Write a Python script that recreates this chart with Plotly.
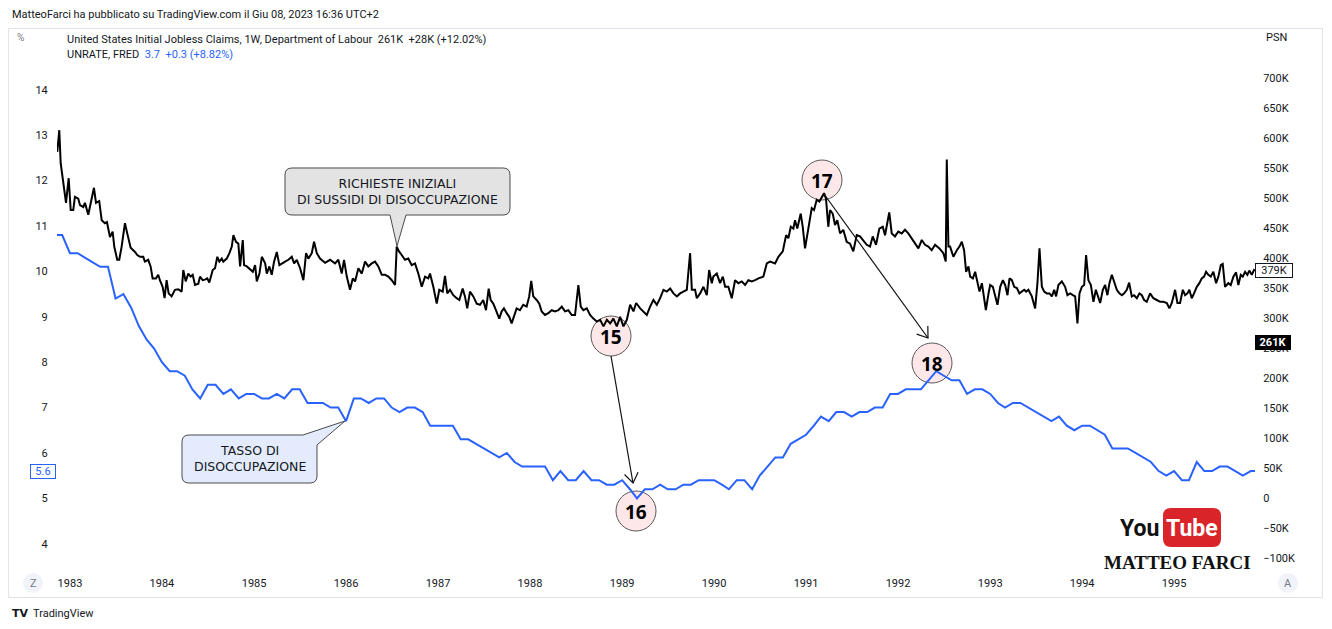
import math
from datetime import datetime
import plotly.graph_objects as go

# ---------------- DATA ----------------
# Initial jobless claims (thousands), dates as decimal years
claims_t = [
    1982.862, 1982.884, 1982.899, 1982.921, 1982.957, 1982.986,
    1983.008, 1983.036, 1983.054, 1983.090, 1983.109, 1983.145, 1983.163, 1983.199, 1983.236, 1983.261,
    1983.283, 1983.318, 1983.345, 1983.380, 1983.402, 1983.435, 1983.464, 1983.482, 1983.514, 1983.536,
    1983.562, 1983.598, 1983.623, 1983.660, 1983.707, 1983.732, 1983.761, 1983.797, 1983.815, 1983.851,
    1983.877, 1983.899, 1983.935, 1983.960, 1983.978,
    1984.008, 1984.029, 1984.051, 1984.073, 1984.105, 1984.141, 1984.177, 1984.214, 1984.232, 1984.258,
    1984.286, 1984.312, 1984.334, 1984.359, 1984.395, 1984.413, 1984.442, 1984.467, 1984.492, 1984.514,
    1984.551, 1984.576, 1984.601, 1984.623, 1984.649, 1984.666, 1984.703, 1984.732, 1984.758, 1984.775,
    1984.804, 1984.829, 1984.848, 1984.877, 1984.891, 1984.921, 1984.957, 1984.986,
    1985.011, 1985.029, 1985.058, 1985.084, 1985.120, 1985.138, 1985.166, 1985.192, 1985.217, 1985.247,
    1985.275, 1985.301, 1985.337, 1985.373, 1985.410, 1985.435, 1985.464, 1985.500, 1985.536, 1985.565,
    1985.590, 1985.627, 1985.652, 1985.682, 1985.717, 1985.772, 1985.826, 1985.880, 1985.916, 1985.953,
    1985.978,
    1986.008, 1986.043, 1986.073, 1986.098, 1986.134, 1986.171, 1986.207, 1986.242, 1986.279, 1986.315,
    1986.351, 1986.388, 1986.424, 1986.460, 1986.497, 1986.533, 1986.551, 1986.576, 1986.605, 1986.641,
    1986.677, 1986.714, 1986.750, 1986.786, 1986.823, 1986.859, 1986.895, 1986.913, 1986.949, 1986.986,
    1987.014, 1987.051, 1987.076, 1987.101, 1987.130, 1987.166, 1987.203, 1987.232, 1987.268, 1987.293,
    1987.318, 1987.348, 1987.384, 1987.421, 1987.457, 1987.492, 1987.522, 1987.551, 1987.573, 1987.601,
    1987.630, 1987.666, 1987.692, 1987.717, 1987.747, 1987.775, 1987.801, 1987.826, 1987.855, 1987.891,
    1987.927, 1987.964, 1987.992,
    1988.014, 1988.036, 1988.073, 1988.101, 1988.127, 1988.163, 1988.199, 1988.236, 1988.272, 1988.308,
    1988.345, 1988.380, 1988.416, 1988.453, 1988.489, 1988.525, 1988.551, 1988.579, 1988.616, 1988.652,
    1988.688, 1988.725, 1988.761, 1988.797, 1988.834, 1988.870, 1988.905, 1988.942, 1988.978,
    1989.014, 1989.051, 1989.087, 1989.123, 1989.152, 1989.196, 1989.232, 1989.268, 1989.304, 1989.340,
    1989.377, 1989.413, 1989.449, 1989.486, 1989.522, 1989.558, 1989.595, 1989.630, 1989.666, 1989.703,
    1989.739, 1989.758, 1989.793, 1989.812, 1989.848, 1989.884, 1989.921, 1989.946, 1989.975, 1989.992,
    1990.029, 1990.065, 1990.095, 1990.120, 1990.155, 1990.192, 1990.228, 1990.264, 1990.301, 1990.337,
    1990.373, 1990.410, 1990.446, 1990.482, 1990.536, 1990.573, 1990.609, 1990.663, 1990.699, 1990.717,
    1990.747, 1990.783, 1990.808, 1990.834, 1990.862, 1990.880, 1990.905, 1990.942, 1990.964, 1990.989,
    1991.025, 1991.062, 1991.087, 1991.116, 1991.145, 1991.171, 1991.196, 1991.217, 1991.242, 1991.261,
    1991.290, 1991.315, 1991.340, 1991.370, 1991.405, 1991.442, 1991.478, 1991.514, 1991.551, 1991.587,
    1991.623, 1991.660, 1991.696, 1991.725, 1991.761, 1991.797, 1991.834, 1991.859, 1991.905, 1991.932,
    1991.967,
    1992.003, 1992.040, 1992.076, 1992.112, 1992.149, 1992.185, 1992.221, 1992.258, 1992.293, 1992.329,
    1992.366, 1992.402, 1992.449, 1992.492, 1992.518, 1992.529, 1992.547, 1992.565, 1992.601, 1992.638,
    1992.667, 1992.692, 1992.717, 1992.739, 1992.764, 1992.783, 1992.812, 1992.837, 1992.855, 1992.884,
    1992.910, 1992.927, 1992.953, 1992.982,
    1993.000, 1993.029, 1993.054, 1993.079, 1993.109, 1993.138, 1993.163, 1993.188, 1993.210, 1993.236,
    1993.261, 1993.290, 1993.318, 1993.345, 1993.370, 1993.391, 1993.416, 1993.453, 1993.489, 1993.514,
    1993.536, 1993.562, 1993.587, 1993.616, 1993.645, 1993.671, 1993.696, 1993.717, 1993.742, 1993.779,
    1993.815, 1993.840, 1993.870, 1993.899, 1993.924, 1993.949, 1993.971, 1993.997,
    1994.022, 1994.043, 1994.068, 1994.095, 1994.123, 1994.149, 1994.166, 1994.196, 1994.225, 1994.250,
    1994.275, 1994.297, 1994.323, 1994.348, 1994.377, 1994.405, 1994.432, 1994.457, 1994.486, 1994.511,
    1994.540, 1994.565, 1994.595, 1994.623, 1994.649, 1994.674, 1994.703, 1994.739, 1994.775, 1994.812,
    1994.848, 1994.884, 1994.921, 1994.949, 1994.975,
    1995.011, 1995.036, 1995.065, 1995.095, 1995.120, 1995.145, 1995.166, 1995.192, 1995.217, 1995.247,
    1995.275, 1995.301, 1995.326, 1995.348, 1995.373, 1995.399, 1995.427, 1995.457, 1995.482, 1995.508,
    1995.529, 1995.554, 1995.590, 1995.616, 1995.645, 1995.674, 1995.699, 1995.725, 1995.747, 1995.772,
    1995.797, 1995.818, 1995.845, 1995.870, 1995.880,
]
claims_k = [
    577, 613, 558, 535, 492, 533,
    480, 480, 502, 499, 488, 485, 492, 472, 502, 517,
    492, 495, 463, 458, 460, 435, 444, 419, 397, 397,
    419, 458, 441, 417, 410, 405, 402, 402, 394, 397,
    386, 366, 366, 372, 363,
    352, 333, 363, 341, 336, 347, 348, 344, 380, 361,
    374, 369, 372, 355, 357, 369, 363, 364, 366, 359,
    380, 383, 402, 394, 399, 394, 399, 408, 419, 438,
    427, 424, 386, 430, 388, 386, 380, 377,
    388, 361, 374, 402, 391, 374, 386, 372, 394, 410,
    388, 391, 394, 397, 402, 391, 397, 383, 363, 408,
    399, 408, 427, 408, 399, 392, 397, 391, 397, 374,
    397,
    369, 347, 366, 361, 383, 374, 394, 386, 391, 394,
    386, 372, 372, 369, 363, 355, 419, 411, 405, 397,
    399, 388, 391, 374, 352, 369, 366, 374, 352, 324,
    347, 344, 370, 341, 347, 338, 333, 330, 349, 336,
    316, 344, 336, 324, 322, 330, 313, 349, 330, 324,
    313, 299, 311, 316, 308, 302, 291, 302, 316, 313,
    322, 319, 336,
    362, 336, 330, 324, 311, 305, 308, 313, 311, 313,
    319, 311, 313, 305, 305, 355, 319, 313, 316, 305,
    299, 294, 297, 286, 297, 291, 299, 286, 302,
    286, 297, 322, 311, 325, 316, 311, 305, 319, 330,
    322, 333, 347, 344, 349, 341, 336, 341, 344, 347,
    408, 347, 347, 333, 341, 352, 338, 380, 358, 369,
    374, 358, 369, 352, 352, 333, 363, 358, 361, 355,
    363, 361, 363, 366, 369, 391, 394, 391, 402, 405,
    411, 438, 433, 452, 449, 463, 449, 474, 452, 416,
    452, 483, 480, 497, 494, 502, 508, 499, 452, 480,
    474, 455, 463, 441, 447, 427, 424, 411, 438, 436,
    430, 422, 419, 436, 422, 449, 452, 438, 476, 441,
    436,
    444, 441, 447, 441, 433, 424, 416, 430, 422, 419,
    413, 422, 416, 408, 394, 564, 419, 419, 402, 413,
    419, 427, 413, 377, 386, 369, 366, 377, 363, 344,
    358, 338, 313, 341,
    355, 352, 338, 322, 352, 363, 355, 338, 366, 363,
    352, 350, 341, 344, 347, 344, 347, 336, 316, 358,
    416, 352, 344, 341, 341, 336, 347, 336, 355, 361,
    352, 338, 341, 338, 336, 291, 341, 352,
    355, 405, 363, 355, 327, 347, 338, 325, 347, 355,
    338, 358, 372, 361, 347, 341, 338, 341, 347, 359,
    336, 338, 333, 341, 338, 330, 327, 341, 333, 330,
    327, 327, 325, 316, 325,
    347, 325, 325, 347, 338, 341, 347, 333, 341, 352,
    358, 366, 369, 377, 372, 369, 377, 358, 369, 388,
    390, 352, 358, 355, 369, 376, 355, 372, 369, 377,
    372, 379, 372, 380, 379,
]
assert len(claims_t) == len(claims_k)

# Monthly unemployment rate (%), from Nov 1982
unrate_start = (1982, 11)
unrate = [
    10.8, 10.8,
    10.4, 10.4, 10.3, 10.2, 10.1, 10.1, 9.4, 9.5, 9.2, 8.8, 8.5, 8.3,
    8.0, 7.8, 7.8, 7.7, 7.4, 7.2, 7.5, 7.5, 7.3, 7.4, 7.2, 7.3,
    7.3, 7.2, 7.2, 7.3, 7.2, 7.4, 7.4, 7.1, 7.1, 7.1, 7.0, 7.0,
    6.7, 7.2, 7.2, 7.1, 7.2, 7.2, 7.0, 6.9, 7.0, 7.0, 6.9, 6.6,
    6.6, 6.6, 6.6, 6.3, 6.3, 6.2, 6.1, 6.0, 5.9, 6.0, 5.8, 5.7,
    5.7, 5.7, 5.7, 5.4, 5.6, 5.4, 5.4, 5.6, 5.4, 5.4, 5.3, 5.3,
    5.4, 5.2, 5.0, 5.2, 5.2, 5.3, 5.2, 5.2, 5.3, 5.3, 5.4, 5.4,
    5.4, 5.3, 5.2, 5.4, 5.4, 5.2, 5.5, 5.7, 5.9, 5.9, 6.2, 6.3,
    6.4, 6.6, 6.8, 6.7, 6.9, 6.9, 6.8, 6.9, 6.9, 7.0, 7.0, 7.3,
    7.3, 7.4, 7.4, 7.4, 7.6, 7.8, 7.7, 7.6, 7.6, 7.3, 7.4, 7.4,
    7.3, 7.1, 7.0, 7.1, 7.1, 7.0, 6.9, 6.8, 6.7, 6.8, 6.6, 6.5,
    6.6, 6.6, 6.5, 6.4, 6.1, 6.1, 6.1, 6.0, 5.9, 5.8, 5.6, 5.5,
    5.6, 5.4, 5.4, 5.8, 5.6, 5.6, 5.7, 5.7, 5.6, 5.5, 5.6, 5.6,
]

view_start, view_end = 1982.859, 1995.880
year_ticks = list(range(1983, 1996))
left_ticks = list(range(4, 15))
right_ticks = list(range(-100, 701, 50))
right_ticktext = ["0" if v == 0 else (f"\u2212{-v}K" if v < 0 else f"{v}K") for v in right_ticks]
left_range = [3.377, 15.36]
right_range = [-123.3, 783.3]


def dec_to_dt(t):
    y = int(math.floor(t))
    s, e = datetime(y, 1, 1), datetime(y + 1, 1, 1)
    return s + (e - s) * (t - y)


claims_x = [dec_to_dt(t) for t in claims_t]
unrate_x = []
yy, mm = unrate_start
for _ in unrate:
    unrate_x.append(datetime(yy, mm, 1))
    mm += 1
    if mm > 12:
        mm, yy = 1, yy + 1

# ---------------- LAYOUT GEOMETRY ----------------
W, H = 1332, 629
L, R, T, B = 57, 1255, 28, 572


def px(x):
    return (x - L) / (R - L)


def py(y):
    return (B - y) / (B - T)


def P(x, y):
    return f"{px(x):.5f},{py(y):.5f}"


BLUE = "#2962FF"
TXT = "#131722"
GRAY = "#787b86"

fig = go.Figure()
fig.add_trace(go.Scatter(x=unrate_x, y=unrate, mode="lines", line=dict(color=BLUE, width=2),
                         yaxis="y", hoverinfo="skip"))
fig.add_trace(go.Scatter(x=claims_x, y=claims_k, mode="lines", line=dict(color="#000000", width=2),
                         yaxis="y2", hoverinfo="skip"))

shapes = []
annots = []

# outer border
shapes.append(dict(type="rect", xref="paper", yref="paper", x0=px(8.5), x1=px(1322.5),
                   y0=py(28.5), y1=py(597.5), line=dict(color="#e0e3eb", width=1), layer="below"))


def rounded_callout(x0, y0, x1, y1, r, mid):
    return (f"M {P(x0 + r, y0)} " + mid +
            f" L {P(x0 + r, y1)} Q {P(x0, y1)} {P(x0, y1 - r)} L {P(x0, y0 + r)} Q {P(x0, y0)} {P(x0 + r, y0)} Z")


# callout: claims
x0, y0, x1, y1, r = 285, 168, 510, 215, 7
mid = (f"L {P(x1 - r, y0)} Q {P(x1, y0)} {P(x1, y0 + r)} L {P(x1, y1 - r)} Q {P(x1, y1)} {P(x1 - r, y1)} "
       f"L {P(406, y1)} L {P(397, 246)} L {P(390, y1)}")
shapes.append(dict(type="path", xref="paper", yref="paper", path=rounded_callout(x0, y0, x1, y1, r, mid),
                   fillcolor="#e3e3e3", line=dict(color="#4a4a4a", width=1)))
annots.append(dict(x=px(398), y=py(191.5), text="RICHIESTE INIZIALI<br>DI SUSSIDI DI DISOCCUPAZIONE",
                   font=dict(family="DejaVu Sans", size=12.5, color=TXT)))

# callout: unemployment rate
x0, y0, x1, y1, r = 182, 435, 317, 483, 7
mid = (f"L {P(303, y0)} L {P(345, 421)} L {P(x1, 445)} L {P(x1, y1 - r)} Q {P(x1, y1)} {P(x1 - r, y1)}")
shapes.append(dict(type="path", xref="paper", yref="paper", path=rounded_callout(x0, y0, x1, y1, r, mid),
                   fillcolor="#e3ebfc", line=dict(color="#4a4a4a", width=1)))
annots.append(dict(x=px(249.5), y=py(458), text="TASSO DI<br>DISOCCUPAZIONE",
                   font=dict(family="DejaVu Sans", size=12.5, color=TXT)))

# numbered circles
for cx, cy, lab in [(611, 336, "15"), (636, 511, "16"), (822, 180, "17"), (932, 363, "18")]:
    rr = 20
    shapes.append(dict(type="circle", xref="paper", yref="paper", x0=px(cx - rr), x1=px(cx + rr),
                       y0=py(cy + rr), y1=py(cy - rr), fillcolor="#fde7e8",
                       line=dict(color="#5a5a5a", width=1), layer="below"))
    annots.append(dict(x=px(cx), y=py(cy + 1), text=f"<b>{lab}</b>",
                       font=dict(family="Open Sans", size=19, color="#000000")))


def arrow(xa, ya, xb, yb, hl=12, ang=35):
    dx, dy = xb - xa, yb - ya
    n = math.hypot(dx, dy)
    ux, uy = dx / n, dy / n
    pts = []
    for s in (1, -1):
        a = math.radians(ang) * s
        rx = ux * math.cos(a) - uy * math.sin(a)
        ry = ux * math.sin(a) + uy * math.cos(a)
        pts.append((xb - hl * rx, yb - hl * ry))
    shapes.append(dict(type="path", xref="paper", yref="paper",
                       path=f"M {P(xa, ya)} L {P(xb, yb)}", line=dict(color="#111111", width=1.2)))
    shapes.append(dict(type="path", xref="paper", yref="paper",
                       path=f"M {P(*pts[0])} L {P(xb, yb)} L {P(*pts[1])}",
                       line=dict(color="#111111", width=1.2)))


arrow(611, 356, 633, 483)
arrow(824, 194, 928, 338)

# price scale value labels
annots.append(dict(x=px(1255), y=py(270), xanchor="left", text="379K", width=36, height=13,
                   font=dict(family="Roboto", size=11, color=TXT), bgcolor="#ffffff",
                   bordercolor=TXT, borderwidth=1, borderpad=0))
annots.append(dict(x=px(1255), y=py(342), xanchor="left", text="<b>261K</b>", width=34, height=13,
                   font=dict(family="Roboto", size=11, color="#ffffff"), bgcolor="#000000",
                   bordercolor="#000000", borderwidth=1, borderpad=0))
annots.append(dict(x=px(56), y=py(471.5), xanchor="right", text="5.6", width=24, height=13,
                   font=dict(family="Roboto", size=11, color=BLUE), bgcolor="#ffffff",
                   bordercolor=BLUE, borderwidth=1, borderpad=0))

# Z / A buttons
for cx, lab in [(33, "Z"), (1288, "A")]:
    shapes.append(dict(type="circle", xref="paper", yref="paper", x0=px(cx - 10), x1=px(cx + 10),
                       y0=py(593), y1=py(573), fillcolor="#f0f3fa", line=dict(width=0)))
    annots.append(dict(x=px(cx), y=py(583), text=lab, font=dict(family="Roboto", size=11, color=GRAY)))

# header and legend
annots.append(dict(x=px(10), y=py(14), xanchor="left",
                   text="MatteoFarci ha pubblicato su TradingView.com il Giu 08, 2023 16:36 UTC+2",
                   font=dict(family="Roboto", size=11, color=TXT)))
annots.append(dict(x=px(65), y=py(39), xanchor="left",
                   text="United States Initial Jobless Claims, 1W, Department of Labour\u00a0\u00a0261K\u00a0\u00a0+28K (+12.02%)",
                   font=dict(family="Roboto", size=11, color=TXT)))
annots.append(dict(x=px(65), y=py(54), xanchor="left",
                   text=f"UNRATE, FRED\u00a0\u00a0<span style='color:{BLUE}'>3.7\u00a0\u00a0+0.3 (+8.82%)</span>",
                   font=dict(family="Roboto", size=11, color=TXT)))
annots.append(dict(x=px(20), y=py(37), text="%", font=dict(family="Roboto", size=10, color=GRAY)))
annots.append(dict(x=px(1264), y=py(37), xanchor="left", text="PSN",
                   font=dict(family="Roboto", size=11, color=TXT)))

# TradingView footer
annots.append(dict(x=px(10), y=py(613), xanchor="left", text="<b>TV</b>",
                   font=dict(family="DejaVu Sans", size=11, color=TXT)))
annots.append(dict(x=px(31), y=py(613), xanchor="left", text="TradingView",
                   font=dict(family="Roboto", size=11, color=TXT)))

# YouTube watermark
yx0, yy0, yx1, yy1, yr = 1163, 508, 1221, 547, 8
ypath = (f"M {P(yx0 + yr, yy0)} L {P(yx1 - yr, yy0)} Q {P(yx1, yy0)} {P(yx1, yy0 + yr)} "
         f"L {P(yx1, yy1 - yr)} Q {P(yx1, yy1)} {P(yx1 - yr, yy1)} L {P(yx0 + yr, yy1)} "
         f"Q {P(yx0, yy1)} {P(yx0, yy1 - yr)} L {P(yx0, yy0 + yr)} Q {P(yx0, yy0)} {P(yx0 + yr, yy0)} Z")
shapes.append(dict(type="path", xref="paper", yref="paper", path=ypath, fillcolor="#d9252a",
                   line=dict(width=0)))
annots.append(dict(x=px(1161), y=py(528), xanchor="right", text="<b>You</b>",
                   font=dict(family="Liberation Sans Narrow, Arial Narrow, Roboto", size=23,
                             color="#111111")))
annots.append(dict(x=px(1192), y=py(528), text="<b>Tube</b>",
                   font=dict(family="Liberation Sans Narrow, Arial Narrow, Roboto", size=23,
                             color="#ffffff")))
annots.append(dict(x=px(1177), y=py(562), text="<b>MATTEO FARCI</b>",
                   font=dict(family="Liberation Serif", size=19, color="#111111")))

for a in annots:
    a.setdefault("xref", "paper")
    a.setdefault("yref", "paper")
    a.setdefault("showarrow", False)
    a.setdefault("xanchor", "center")
    a.setdefault("yanchor", "middle")

fig.update_layout(
    width=W, height=H, autosize=False,
    margin=dict(l=L, r=W - R, t=T, b=H - B, pad=0),
    paper_bgcolor="#ffffff", plot_bgcolor="#ffffff",
    showlegend=False,
    xaxis=dict(type="date", range=[dec_to_dt(view_start), dec_to_dt(view_end)],
               tickvals=[datetime(y, 1, 1) for y in year_ticks], ticktext=[str(y) for y in year_ticks],
               showgrid=False, zeroline=False, showline=False, ticks="outside", ticklen=1,
               tickcolor="rgba(0,0,0,0)", tickfont=dict(family="Roboto", size=11, color=TXT)),
    yaxis=dict(range=left_range, tickvals=left_ticks, ticktext=[str(v) for v in left_ticks],
               side="left", showgrid=False, zeroline=False, showline=False, ticks="outside",
               ticklen=6, tickcolor="rgba(0,0,0,0)", tickfont=dict(family="Roboto", size=11, color=TXT)),
    yaxis2=dict(range=right_range, tickvals=right_ticks, ticktext=right_ticktext, overlaying="y",
                side="right", showgrid=False, zeroline=False, showline=False, ticks="outside",
                ticklen=5, tickcolor="rgba(0,0,0,0)", tickfont=dict(family="Roboto", size=11, color=TXT)),
    shapes=shapes,
    annotations=annots,
    hovermode=False,
)

fig.write_html("out.html")
